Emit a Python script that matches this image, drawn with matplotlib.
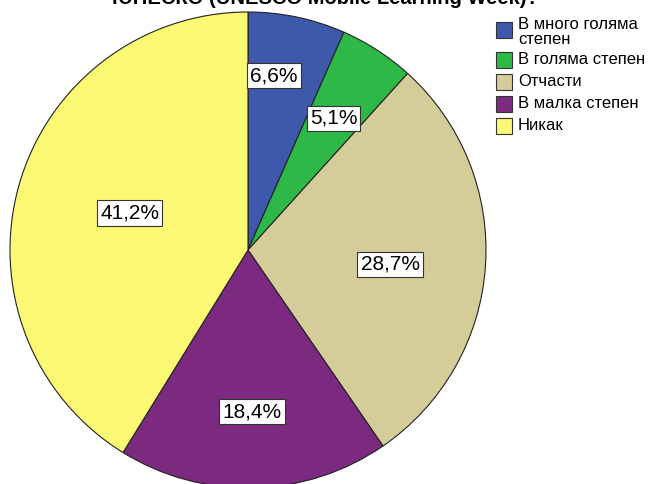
import numpy as np
import matplotlib
matplotlib.use("Agg")
import matplotlib.pyplot as plt
from matplotlib.patches import Rectangle

plt.rcParams['font.family'] = ['Liberation Sans', 'DejaVu Sans']

# data
categories = ['В много голяма\nстепен', 'В голяма степен', 'Отчасти', 'В малка степен', 'Никак']
values = [6.6, 5.1, 28.7, 18.4, 41.2]
pct_labels = ['6,6%', '5,1%', '28,7%', '18,4%', '41,2%']
colors = ['#3E58AC', '#2EB848', '#D4CD99', '#7B2A7F', '#FBF874']
title = 'ЮНЕСКО (UNESCO Mobile Learning Week)?'

W, H = 650, 484
fig = plt.figure(figsize=(6.5, 4.84), dpi=100)
ax = fig.add_axes([0, 0, 1, 1])

cx, cy, r = 248, H - 250, 238
wedges, _ = ax.pie(values, colors=colors, startangle=90, counterclock=False,
                   center=(cx, cy), radius=r,
                   wedgeprops=dict(edgecolor='#222222', linewidth=0.8))
ax.set_xlim(0, W)
ax.set_ylim(0, H)
ax.set_aspect('equal')
ax.axis('off')

# percentage labels at varying distances / small angle shifts (like the SPSS output)
dist = [0.74, 0.66, 0.60, 0.68, 0.52]
shift = [3.5, 0, -2, 0, -1.5]
for w, lab, d, s in zip(wedges, pct_labels, dist, shift):
    ang = np.deg2rad((w.theta1 + w.theta2) / 2 + s)
    x = cx + d * r * np.cos(ang)
    y = cy + d * r * np.sin(ang)
    ax.text(x, y, lab, fontsize=15, ha='center', va='center',
            bbox=dict(boxstyle='square,pad=0.15', facecolor='white',
                      edgecolor='#333333', linewidth=0.8))

# title (clipped at the top as in the original)
fig.text(0.5, 1 - 4 / H, title, fontsize=14.5, fontweight='bold',
         ha='center', va='baseline')

# legend
rows = [30, 60, 82, 104, 126]
for yy, col, cat in zip(rows, colors, categories):
    ax.add_patch(Rectangle((496, H - yy - 8), 16, 16, facecolor=col,
                           edgecolor='#333333', linewidth=0.8))
    if '\n' in cat:
        ax.text(518, H - 17, cat, fontsize=12, ha='left', va='top',
                linespacing=1.0)
    else:
        ax.text(518, H - yy, cat, fontsize=12, ha='left', va='center')

fig.savefig('out.png', dpi=100)
